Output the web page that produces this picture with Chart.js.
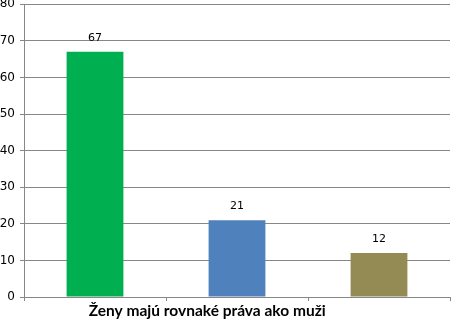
<!DOCTYPE html>
<html>
<head>
<meta charset="utf-8">
<script src="https://cdn.jsdelivr.net/npm/chart.js@4.4.1/dist/chart.umd.min.js"></script>
<style>
  html, body { margin: 0; padding: 0; background: #ffffff; }
  #wrap { width: 451px; height: 321px; overflow: hidden; position: relative; }
  #wrap canvas { position: absolute; left: 0; top: -8px; }
</style>
</head>
<body>
<div id="wrap"><canvas id="chart" width="451" height="329"></canvas></div>
<script>
// Survey answers: share of respondents (%)
const categories = ['', '', ''];
const values = [67, 21, 12];
const yTicks = { min: 0, max: 80, step: 10 };
const caption = 'Ženy majú rovnaké práva ako muži';

const gridColor = '#878787';

// Prints each bar's value just above it
const valueLabels = {
  id: 'valueLabels',
  afterDatasetsDraw(chart) {
    const ctx = chart.ctx;
    ctx.save();
    ctx.font = '11px "DejaVu Sans"';
    ctx.fillStyle = '#000000';
    ctx.textAlign = 'center';
    ctx.textBaseline = 'middle';
    chart.getDatasetMeta(0).data.forEach((bar, i) => {
      ctx.fillText(String(values[i]), bar.x, bar.y - 14);
    });
    ctx.restore();
  }
};

// Axis caption under the category axis
const axisCaption = {
  id: 'axisCaption',
  afterDraw(chart) {
    const ctx = chart.ctx;
    const area = chart.chartArea;
    ctx.save();
    ctx.font = 'bold 15.5px Lato';
    ctx.fillStyle = '#000000';
    ctx.textAlign = 'center';
    ctx.textBaseline = 'alphabetic';
    const cx = area.left + (area.right - area.left) * 0.43;
    ctx.fillText(caption, cx, area.bottom + 19);
    ctx.restore();
  }
};

new Chart(document.getElementById('chart'), {
  type: 'bar',
  data: {
    labels: categories,
    datasets: [{
      data: values,
      backgroundColor: ['#00B050', '#4F81BD', '#948A54'],
      borderWidth: 0,
      barPercentage: 0.4,
      categoryPercentage: 1.0
    }]
  },
  options: {
    responsive: false,
    devicePixelRatio: 1,
    animation: false,
    layout: { padding: { left: 0, right: 1, top: 0, bottom: 0 } },
    plugins: {
      legend: { display: false },
      tooltip: { enabled: false }
    },
    scales: {
      x: {
        grid: {
          display: true,
          drawOnChartArea: false,
          drawTicks: true,
          tickLength: 4,
          color: gridColor,
          offset: true
        },
        border: { display: true, color: gridColor },
        ticks: { display: false },
        afterFit(scale) { scale.height = 24; }
      },
      y: {
        min: yTicks.min,
        max: yTicks.max,
        ticks: {
          stepSize: yTicks.step,
          color: '#000000',
          font: { family: 'DejaVu Sans', size: 12 },
          padding: 5
        },
        grid: { color: gridColor, tickLength: 4 },
        border: { display: true, color: gridColor },
        afterFit(scale) { scale.width = 24; }
      }
    }
  },
  plugins: [valueLabels, axisCaption]
});
</script>
</body>
</html>
